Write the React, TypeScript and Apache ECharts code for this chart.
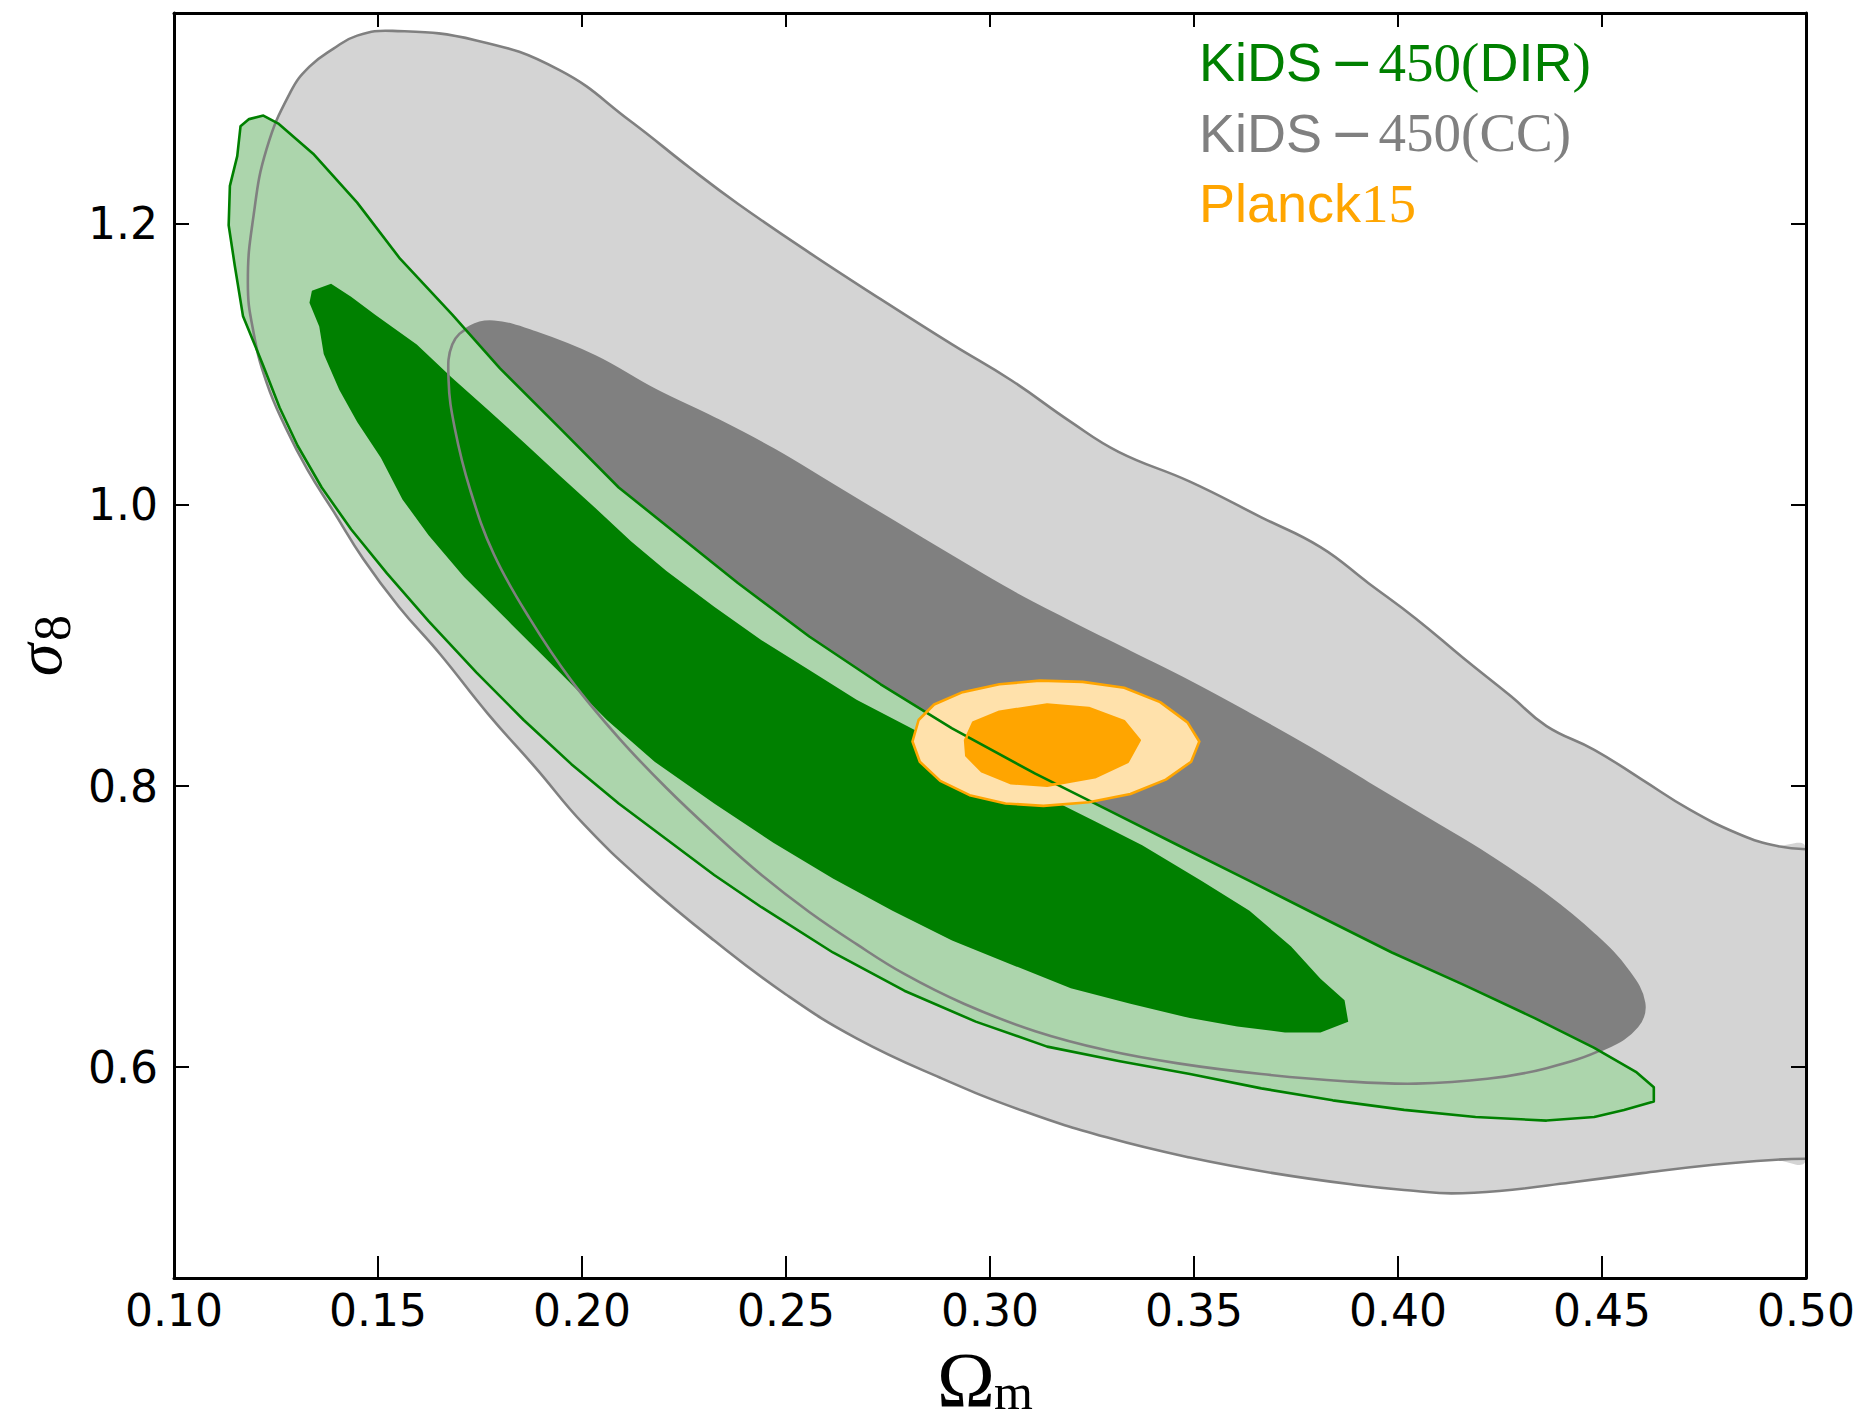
import React, { useEffect, useRef } from "react";
import * as echarts from "echarts";

type P = [number, number];

// x ticks (Omega_m) and y ticks (sigma_8)
const xTicks = [0.1, 0.15, 0.2, 0.25, 0.3, 0.35, 0.4, 0.45, 0.5];
const yTicks = [0.6, 0.8, 1.0, 1.2];

// KiDS-450 (CC): 95% contour (open, leaves the frame at Omega_m = 0.5)
const grayOuter: P[] = [
  [0.5, 0.755], [0.4918, 0.758], [0.4831, 0.7664], [0.4714, 0.7834], [0.4598, 0.8046],
  [0.4481, 0.8258], [0.4364, 0.8427], [0.4277, 0.8639], [0.416, 0.8911], [0.4044, 0.9191],
  [0.3927, 0.9445], [0.381, 0.97], [0.3665, 0.9912], [0.349, 1.0166], [0.3315, 1.0378],
  [0.3198, 1.0591], [0.3052, 1.0887], [0.2907, 1.1142], [0.2732, 1.1464], [0.2557, 1.1795],
  [0.2382, 1.2143], [0.2265, 1.2397], [0.212, 1.2728], [0.1945, 1.3093], [0.1741, 1.3305],
  [0.1536, 1.3373], [0.1449, 1.3339], [0.1391, 1.3246], [0.1332, 1.3118], [0.1286, 1.294],
  [0.1227, 1.2533], [0.1195, 1.2058], [0.1181, 1.1583], [0.1195, 1.1227], [0.1227, 1.087],
  [0.1274, 1.0548], [0.1327, 1.0251], [0.1391, 0.9954], [0.1464, 0.9615], [0.1551, 0.9276],
  [0.1653, 0.8936], [0.177, 0.8512], [0.1886, 0.8131], [0.2003, 0.7732], [0.2149, 0.7325],
  [0.2324, 0.6901], [0.2499, 0.6519], [0.2673, 0.6205], [0.2878, 0.5925], [0.3082, 0.5688],
  [0.3286, 0.5501], [0.349, 0.5357], [0.3694, 0.5246], [0.3898, 0.5162], [0.4044, 0.5119],
  [0.4131, 0.5102], [0.4248, 0.5119], [0.4423, 0.5179], [0.4598, 0.5246], [0.4773, 0.5306],
  [0.4918, 0.534], [0.5, 0.5348],
];

// KiDS-450 (CC): 68% contour
const grayInner: P[] = [
  [0.1682, 1.1142], [0.1726, 1.1269], [0.1784, 1.1303], [0.1886, 1.1227], [0.2032, 1.1057],
  [0.2178, 1.082], [0.2324, 1.0616], [0.2469, 1.0395], [0.2615, 1.0141], [0.2761, 0.9886],
  [0.2907, 0.9632], [0.3052, 0.9386], [0.3198, 0.9165], [0.3344, 0.8953], [0.349, 0.8741],
  [0.3636, 0.8512], [0.3781, 0.8275], [0.3927, 0.802], [0.4073, 0.7766], [0.4219, 0.7511],
  [0.4364, 0.7223], [0.4481, 0.6943], [0.4563, 0.6688], [0.4603, 0.6459], [0.4586, 0.629],
  [0.451, 0.6137], [0.4364, 0.5993], [0.4219, 0.5917], [0.4044, 0.5883], [0.3869, 0.59],
  [0.3665, 0.5951], [0.3461, 0.6027], [0.3286, 0.612], [0.3111, 0.6256], [0.2936, 0.6451],
  [0.279, 0.6663], [0.2673, 0.6875], [0.2557, 0.7104], [0.244, 0.7367], [0.2324, 0.7664],
  [0.2207, 0.7986], [0.209, 0.8343], [0.1974, 0.875], [0.1872, 0.9191], [0.1784, 0.9649],
  [0.1726, 1.0107], [0.1688, 1.0548], [0.1673, 1.0887],
];

// KiDS-450 (DIR): 95% contour
const greenOuter: P[] = [
  [0.1163, 1.2694], [0.1184, 1.2745], [0.1219, 1.277], [0.1257, 1.2711], [0.1341, 1.2499],
  [0.1449, 1.2151], [0.1554, 1.1752], [0.1682, 1.1354], [0.1799, 1.0972], [0.1945, 1.0548],
  [0.209, 1.0124], [0.2236, 0.9785], [0.2382, 0.9445], [0.2557, 0.9064], [0.2732, 0.8724],
  [0.2907, 0.841], [0.3111, 0.8088], [0.3286, 0.7834], [0.3461, 0.7579], [0.3636, 0.7325],
  [0.381, 0.707], [0.3985, 0.6816], [0.416, 0.6587], [0.4335, 0.6349], [0.4481, 0.6137],
  [0.4583, 0.5967], [0.4627, 0.5857], [0.4627, 0.5755], [0.4554, 0.5696], [0.4481, 0.5645],
  [0.4364, 0.562], [0.419, 0.5645], [0.4015, 0.5696], [0.384, 0.5764], [0.3665, 0.5849],
  [0.349, 0.5951], [0.3315, 0.6044], [0.314, 0.6146], [0.2965, 0.6324], [0.279, 0.6544],
  [0.2615, 0.6816], [0.244, 0.7138], [0.2324, 0.7367], [0.2207, 0.7622], [0.209, 0.7876],
  [0.1974, 0.8156], [0.1857, 0.847], [0.1741, 0.8809], [0.1624, 0.9174], [0.1522, 0.9513],
  [0.1434, 0.9827], [0.1362, 1.0124], [0.1303, 1.0421], [0.1259, 1.0692], [0.1219, 1.0989],
  [0.1169, 1.1345], [0.1149, 1.1702], [0.1134, 1.199], [0.1137, 1.227], [0.1155, 1.2482],
];

// KiDS-450 (DIR): 68% contour
const greenInner: P[] = [
  [0.1338, 1.1524], [0.1385, 1.1574], [0.1434, 1.1481], [0.1493, 1.1354], [0.1595, 1.1142],
  [0.1682, 1.0904], [0.177, 1.0675], [0.1857, 1.0446], [0.1945, 1.0209], [0.2032, 0.998],
  [0.212, 0.9742], [0.2207, 0.953], [0.2324, 0.9276], [0.244, 0.9038], [0.2557, 0.8826],
  [0.2673, 0.8614], [0.2819, 0.8393], [0.2965, 0.8173], [0.3111, 0.7961], [0.3257, 0.7749],
  [0.3373, 0.7579], [0.3519, 0.7325], [0.3636, 0.7113], [0.3738, 0.6858], [0.381, 0.6629],
  [0.3869, 0.6476], [0.3878, 0.6324], [0.381, 0.6247], [0.3723, 0.6247], [0.3606, 0.629],
  [0.349, 0.6349], [0.3344, 0.6451], [0.3198, 0.6561], [0.3052, 0.6731], [0.2907, 0.6901],
  [0.2761, 0.7113], [0.2615, 0.7342], [0.2469, 0.7596], [0.2324, 0.7876], [0.2178, 0.8173],
  [0.2061, 0.847], [0.1945, 0.8809], [0.1828, 0.9148], [0.1711, 0.9488], [0.1624, 0.9785],
  [0.156, 1.0039], [0.1507, 1.0336], [0.1449, 1.0591], [0.1405, 1.082], [0.1367, 1.1074],
  [0.1356, 1.1269], [0.1332, 1.1439],
];

// Planck15: 95% and 68% contours
const orangeOuter: P[] = [
  [0.281, 0.8317], [0.2825, 0.847], [0.2863, 0.858], [0.293, 0.8665], [0.3023, 0.8724],
  [0.3122, 0.875], [0.3227, 0.8741], [0.3329, 0.8699], [0.3417, 0.8597], [0.3484, 0.8453],
  [0.3513, 0.8317], [0.3493, 0.8173], [0.3431, 0.8046], [0.3344, 0.7944], [0.3242, 0.7885],
  [0.3131, 0.7859], [0.3038, 0.7876], [0.295, 0.7935], [0.2878, 0.8037], [0.2828, 0.8173],
];
const orangeInner: P[] = [
  [0.2939, 0.8326], [0.2959, 0.8453], [0.3023, 0.8529], [0.314, 0.858], [0.3242, 0.8555],
  [0.3329, 0.8461], [0.3367, 0.8326], [0.3338, 0.8173], [0.3257, 0.8063], [0.314, 0.8003],
  [0.3052, 0.802], [0.298, 0.8105], [0.2942, 0.8216],
];

const legendRows = [
  { text: "{s|KiDS}{m|−}{r|450(}{s|DIR}{r|)}", color: "#008000" },
  { text: "{s|KiDS}{m|−}{r|450(CC)}", color: "#808080" },
  { text: "{s|Planck}{r|15}", color: "#ffa500" },
];

function contour(points: P[], fill: string, stroke: string, closed: boolean, smooth: number) {
  return {
    type: "custom",
    coordinateSystem: "cartesian2d",
    silent: true,
    clip: true,
    data: points,
    renderItem: (params: any, api: any) => {
      if (params.dataIndex !== 0) return null;
      return {
        type: closed ? "polygon" : "polyline",
        shape: { points: points.map((p) => api.coord(p)), smooth: smooth },
        style: {
          fill: fill,
          stroke: stroke,
          lineWidth: stroke === "none" ? 0 : 2.6,
          lineJoin: "round",
        },
      };
    },
  };
}

export default function App() {
  const ref = useRef<HTMLDivElement>(null);
  useEffect(() => {
    if (!ref.current) return;
    const chart = echarts.init(ref.current, undefined, { renderer: "svg" });
    const axisCommon = {
      type: "value",
      splitLine: { show: false },
      axisLine: { show: true, onZero: false, lineStyle: { color: "#000", width: 3 } },
      z: 10,
    };
    const legendGraphics = legendRows.map((r, i) => ({
      type: "text",
      x: 1199,
      y: 62 + i * 70.5,
      z: 100,
      style: {
        text: r.text,
        fill: r.color,
        verticalAlign: "middle",
        align: "left",
        rich: {
          s: { fontFamily: "Liberation Sans", fontSize: 54, fill: r.color },
          m: { fontFamily: "DejaVu Sans", fontSize: 52, fill: r.color, padding: [0, 5, 0, 8] },
          r: { fontFamily: "Liberation Serif", fontSize: 55, fill: r.color },
        },
      },
    }));
    chart.setOption({
      animation: false,
      backgroundColor: "#fff",
      grid: { left: 174, right: 60, top: 13, bottom: 144 },
      xAxis: [
        {
          ...axisCommon,
          position: "bottom",
          min: 0.1,
          max: 0.5,
          interval: 0.05,
          axisTick: { show: true, inside: true, length: 22, customValues: xTicks, lineStyle: { color: "#000", width: 2 } },
          axisLabel: {
            customValues: xTicks,
            formatter: (v: number) => v.toFixed(2),
            fontFamily: "DejaVu Sans",
            fontSize: 44,
            color: "#000",
            margin: 10,
          },
        },
        {
          ...axisCommon,
          position: "top",
          min: 0.1,
          max: 0.5,
          interval: 0.05,
          axisTick: { show: true, inside: true, length: 14, customValues: xTicks, lineStyle: { color: "#000", width: 2 } },
          axisLabel: { show: false },
        },
      ],
      yAxis: [
        {
          ...axisCommon,
          position: "left",
          min: 0.45,
          max: 1.35,
          axisTick: { show: true, inside: true, length: 15, customValues: yTicks, lineStyle: { color: "#000", width: 2 } },
          axisLabel: {
            customValues: yTicks,
            formatter: (v: number) => v.toFixed(1),
            fontFamily: "DejaVu Sans",
            fontSize: 44,
            color: "#000",
            margin: 16,
          },
        },
        {
          ...axisCommon,
          position: "right",
          min: 0.45,
          max: 1.35,
          axisTick: { show: true, inside: true, length: 15, customValues: yTicks, lineStyle: { color: "#000", width: 2 } },
          axisLabel: { show: false },
        },
      ],
      series: [
        contour(grayOuter, "#d4d4d4", "none", true, 0.45),
        contour(grayInner, "#808080", "none", true, 0.4),
        contour(greenOuter, "#acd5ac", "none", true, 0),
        contour(greenInner, "#008000", "none", true, 0),
        contour(orangeOuter, "#ffe1ab", "none", true, 0),
        contour(orangeInner, "#ffa500", "none", true, 0),
        contour(grayOuter, "none", "#808080", false, 0.45),
        contour(grayInner, "none", "#808080", true, 0.4),
        contour(greenOuter, "none", "#008000", true, 0),
        contour(orangeOuter, "none", "#ffa500", true, 0),
        contour(orangeInner, "none", "#ffa500", true, 0),
      ],
      graphic: [
        ...legendGraphics,
        {
          type: "text",
          x: 966,
          y: 1379,
          style: { text: "Ω", fontFamily: "Liberation Serif", fontSize: 78, fill: "#000", align: "center", verticalAlign: "middle" },
        },
        {
          type: "text",
          x: 994,
          y: 1392,
          style: { text: "m", fontFamily: "Liberation Serif", fontSize: 50, fill: "#000", align: "left", verticalAlign: "middle" },
        },
        {
          type: "text",
          x: 38,
          y: 660,
          rotation: Math.PI / 2,
          style: { text: "σ", fontFamily: "Liberation Serif", fontStyle: "italic", fontSize: 66, fill: "#000", align: "center", verticalAlign: "middle" },
        },
        {
          type: "text",
          x: 52,
          y: 628,
          rotation: Math.PI / 2,
          style: { text: "8", fontFamily: "Liberation Serif", fontSize: 52, fill: "#000", align: "center", verticalAlign: "middle" },
        },
      ],
    });
    return () => chart.dispose();
  }, []);
  return <div ref={ref} style={{ position: "absolute", left: 0, top: 0, width: 1866, height: 1422 }} />;
}
